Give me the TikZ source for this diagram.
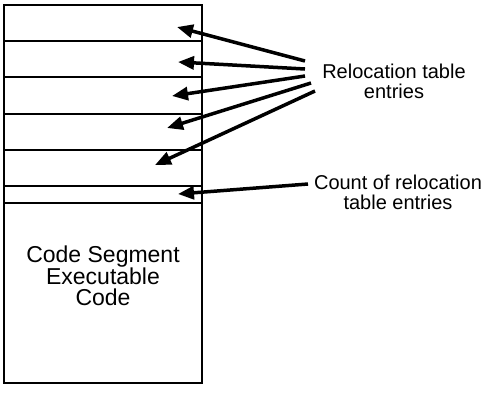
\documentclass[tikz,border=0pt]{standalone}
\usepackage{fontspec}
\setmainfont{Liberation Sans}
\usetikzlibrary{positioning, arrows.meta, calc}

\begin{document}
\begin{tikzpicture}[
    x=1pt, y=-1pt,
    every node/.style={font=\fontsize{20}{20}\selectfont, align=center},
    frame/.style={draw, line width=2pt, minimum width=198pt, inner sep=0pt, outer sep=0pt},
    ptr/.style={-{Triangle[length=16pt, width=13pt]}, line width=3.5pt},
  ]
  \useasboundingbox (0,0) rectangle (494,402);

  % Segment layout
  \node[frame, minimum height=181pt, anchor=north west] (table) at (4,5) {};
  \node[frame, minimum height=17pt, below=0pt of table] (count) {};
  \node[frame, minimum height=180pt, below=0pt of count] (code) {};
  \foreach \i in {1,...,4}
    \draw[line width=2pt] ($(table.north west)!\i/5!(table.south west)$)
      -- ($(table.north east)!\i/5!(table.south east)$);
  \node[font=\fontsize{23}{21}\selectfont] (codetext) at (103,276)
    {Code Segment\\Executable\\Code};

  % Labels
  \node (reloc) at (394,81) {Relocation table\\entries};
  \node (countlbl) at (398,192) {Count of relocation\\table entries};

  % Pointers into the table
  \foreach \tx/\ty/\hx/\hy [count=\i] in
      {305/61/177/27, 305/69/178/62, 305/76/172/96, 311/83/167/128, 315/91/155/165}{
    \coordinate (t\i) at (\tx,\ty);
    \coordinate (h\i) at (\hx,\hy);
    \draw[ptr] (t\i) -- (h\i);
  }
  \coordinate (tc) at (308,184);
  \coordinate (hc) at (178,194);
  \draw[ptr] (tc) -- (hc);
\end{tikzpicture}
\end{document}
